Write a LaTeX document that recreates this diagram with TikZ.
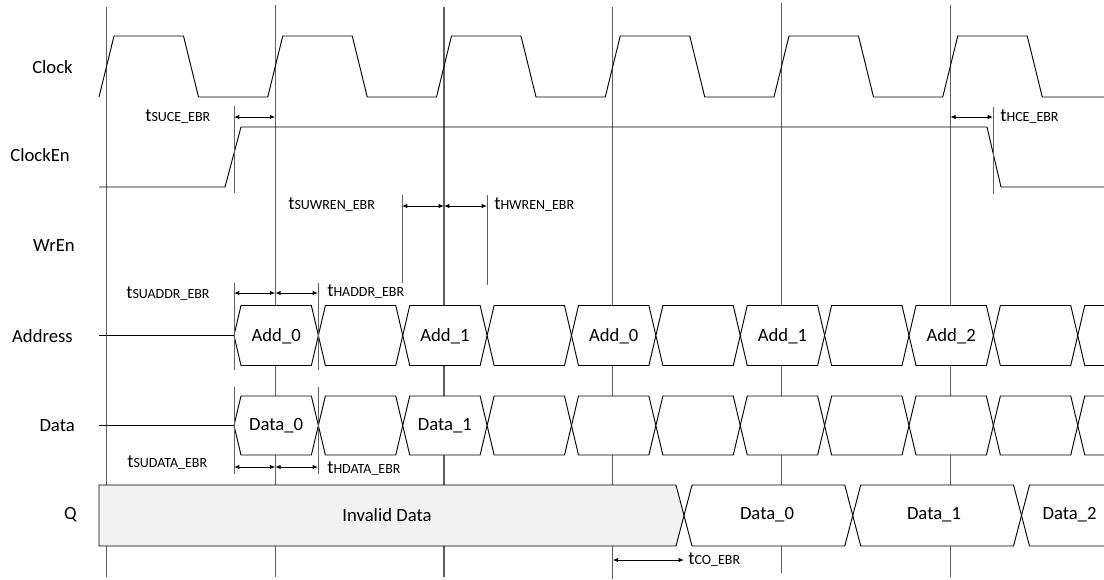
\documentclass[tikz,border=0pt]{standalone}
\usepackage{fontspec}
\setmainfont{Carlito}
\usetikzlibrary{arrows.meta}

\definecolor{gridgray}{RGB}{95,95,95}
\definecolor{invalidfill}{RGB}{242,242,242}

\newcommand{\tname}[1]{t{\fontsize{10.5}{12}\selectfont #1}}

\tikzset{%
  grid line/.style={
    draw=gridgray,
    line width=0.85pt
  },
  wave/.style={
    draw=black,
    line width=0.7pt
  },
  bus/.style={
    wave,
    fill=white
  },
  time arrow/.style={
    <->,
    line width=0.6pt
  },
  sig label/.style={
    anchor=east,
    inner sep=0pt,
    font=\fontsize{14}{16}\selectfont
  },
  bus text/.style={
    inner sep=0pt,
    font=\fontsize{14}{16}\selectfont
  },
}

\begin{document}
\begin{tikzpicture}[x=0.75pt, y=-0.75pt, >={Latex[length=4pt,width=3.2pt]}]
    \clip (0,0) rectangle (1104,579);

        % clock edges
        \foreach \i/\top/\bot in {0/7/577, 1/5/577, 2/7/577, 3/7/579, 4/3/573, 5/5/577}
          \draw [grid line] ({106.5+168.75*\i},\top) -- ({106.5+168.75*\i},\bot);

        % signal names
        \foreach \s/\x/\y in {Clock/73/67, ClockEn/70/155, WrEn/75/246, Address/73/336, Data/75/426, Q/77/515}
          \node [sig label] (sig-\s) at (\x,\y) {\s};

        % Clock and ClockEn
        \draw [wave] (99,97) \foreach \k in {0,...,5} { -- ++(15,-61) -- ++(69.5,0) -- ++(15,61) -- ++(69.25,0) };
        \draw [wave] (99,187) -- (225,187) -- (241,127) -- (987,127) -- (1001,187) -- (1104,187);

        % Address and Data busses
        \draw [wave] (99,335.5) -- (234,335.5);
        \foreach \k in {0,...,10}
          \draw [bus] ({234+84.375*\k},335.5) -- ++(7,-30) -- ++(70.375,0) -- ++(7,30) -- ++(-7,30) -- ++(-70.375,0) -- cycle;
        \draw [wave] (99,425.5) -- (234,425.5);
        \foreach \k in {0,...,10}
          \draw [bus] ({234+84.375*\k},425.5) -- ++(7,-29.5) -- ++(70.375,0) -- ++(7,29.5) -- ++(-7,29.5) -- ++(-70.375,0) -- cycle;
        \foreach \l/\k in {Add\_0/0, Add\_1/2, Add\_0/4, Add\_1/6, Add\_2/8}
          \node [bus text] (addr-\k) at ({276.2+84.375*\k},336) {\l};
        \foreach \l/\k in {Data\_0/0, Data\_1/2}
          \node [bus text] (data-\k) at ({276.2+84.375*\k},426) {\l};

        % Q output
        \draw [wave, fill=invalidfill] (99,485) -- (676,485) -- (684,515.5) -- (676,546) -- (99,546) -- cycle;
        \node [bus text] (q-invalid) at (387,515) {Invalid Data};
        \foreach \k in {0,1,2}
          \draw [bus] ({684+168.75*\k},515.5) -- ++(8,-30.5) -- ++(152.75,0) -- ++(8,30.5) -- ++(-8,30.5) -- ++(-152.75,0) -- cycle;
        \foreach \l/\x in {Data\_0/767, Data\_1/934, Data\_2/1069.5}
          \node [bus text] (q-\x) at (\x,515) {\l};

        % timing marks
        \foreach \x/\top/\bot in {234/106/193, 993/107/194, 402/195/283, 487/195/285, 234/283/370, 318/283/370, 234/387/474, 318/387/474}
          \draw [grid line, line width=0.7pt] (\x,\top) -- (\x,\bot);
        \foreach \n/\xa/\xb/\y in {suce/234/275.25/117, hce/950.25/993/117, suwren/402/444/206, hwren/444/487/206, suaddr/234/275.25/293, haddr/275.25/318/293, sudata/234/275.25/467, hdata/275.25/318/467, co/612.75/684/560}
          {
            \coordinate (\n-a) at (\xa,\y);
            \coordinate (\n-b) at (\xb,\y);
            \draw [time arrow] (\n-a) -- (\n-b);
          }
        \foreach \n/\t/\x/\y in {suce/SUCE\_EBR/145/117, hce/HCE\_EBR/1000/117, suwren/SUWREN\_EBR/288/205, hwren/HWREN\_EBR/494/205, suaddr/SUADDR\_EBR/126/294, haddr/HADDR\_EBR/327/292, sudata/SUDATA\_EBR/127/463, hdata/HDATA\_EBR/327/469, co/CO\_EBR/688/560}
          \node [bus text, anchor=west] (lab-\n) at (\x,\y) {\tname{\t}};
    \end{tikzpicture}
\end{document}
